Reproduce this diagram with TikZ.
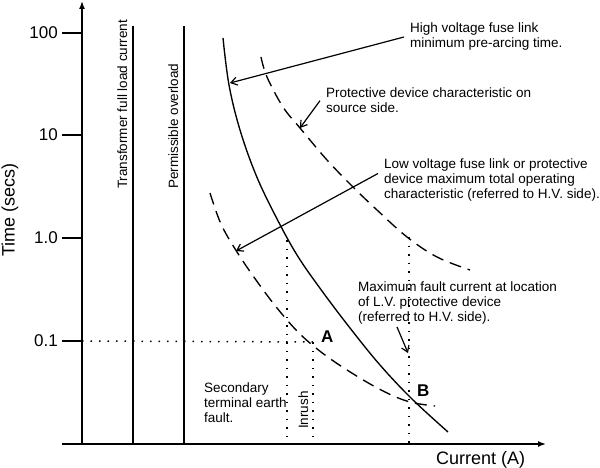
\documentclass[tikz,border=0pt]{standalone}
\usepackage{fontspec}
\setmainfont{Liberation Sans}
\usetikzlibrary{arrows.meta}

\begin{document}
\begin{tikzpicture}[x=1pt,y=-1pt,
    axis/.style={line width=1.5pt},
    curve/.style={line width=1.35pt},
    dashcurve/.style={curve,dash pattern=on 12pt off 7pt},
    guide/.style={line width=1.5pt,dash pattern=on 1.5pt off 7pt},
    note/.style={font=\fontsize{13.5}{15}\selectfont,align=left,inner xsep=6pt,inner ysep=0pt,anchor=north west},
    vlbl/.style={font=\fontsize{13.5}{15}\selectfont,rotate=90,inner sep=0pt,anchor=base west},
    axlbl/.style={font=\fontsize{18}{21}\selectfont,inner sep=0pt,anchor=base west},
    ticklbl/.style={font=\fontsize{17}{20}\selectfont,inner sep=0pt,anchor=east},
    ptlbl/.style={font=\fontsize{17}{20}\selectfont\bfseries,inner sep=0pt,anchor=base west},
    callout/.style={line width=1.2pt,-{Straight Barb[length=6pt,width=8pt]}}]
  \useasboundingbox (0,0) rectangle (600,468);

  \coordinate (o) at (82,444);
  \coordinate (xs) at (62,444);
  \coordinate (xe) at (546,444);
  \coordinate (ye) at (82,1);
  \draw[axis,-{Latex[length=8pt,width=6pt]}] (xs) -- (xe);
  \draw[axis,-{Latex[length=8pt,width=6pt]}] (o) -- (ye);
  \foreach \y/\lbl/\nm in {33/100/hundred,135/10/ten,238/1.0/one,341/0.1/tenth}{
    \draw[axis] (62,\y) -- (82,\y);
    \node[ticklbl] (\nm) at (58,\y) {\lbl};
  }
  \node[axlbl,rotate=90] (time) at (14.5,257) {Time (secs)};
  \node[axlbl] (cur) at (436,464) {Current (A)};

  \coordinate (tfltop) at (133,26);
  \coordinate (potop) at (184,26);
  \draw[axis,line width=1.4pt] (tfltop) -- (tfltop |- o);
  \draw[axis,line width=1.4pt] (potop) -- (potop |- o);
  \node[vlbl] (tfl) at (127,189) {Transformer full load current};
  \node[vlbl] (po) at (178,189) {Permissible overload};

  \draw[curve] plot[smooth,tension=0.6] coordinates {(223,38) (229,85) (240,130) (256,175) (275,215)
    (297,255) (322,291) (350,328) (380,365) (412,399) (448,432)};
  \draw[dashcurve] plot[smooth,tension=0.6] coordinates {(261,57) (267,77) (283,107) (300,128) (327,160)
    (353,187) (377,210) (407,237) (437,257) (470,270)};
  \draw[dashcurve] plot[smooth,tension=0.6] coordinates {(210,193) (221,224) (237,252) (256,280) (277,308)
    (300,334) (325,355) (355,375) (385,392) (410,402) (435,406)};

  \coordinate (ptA) at (313,342);
  \coordinate (inr) at (287,240);
  \coordinate (flt) at (409,237);
  \draw[guide] (82,341) -- (ptA);
  \draw[guide] (ptA) -- (ptA |- o);
  \draw[guide] (inr) -- (inr |- o);
  \draw[guide] (flt) -- (flt |- o);
  \node[ptlbl] (A) at (321,342) {A};
  \node[ptlbl] (B) at (417,396) {B};
  \node[vlbl] (inrush) at (308,429) {Inrush};

  \node[note] (hv) at (404,23) {High voltage fuse link\\minimum pre-arcing time.};
  \node[note] (src) at (320,88) {Protective device characteristic on\\source side.};
  \node[note] (lv) at (378,159) {Low voltage fuse link or protective\\device maximum total operating\\characteristic (referred to H.V. side).};
  \node[note] (mf) at (352,282) {Maximum fault current at location\\of L.V. protective device\\(referred to H.V. side).};
  \node[note] (sec) at (198,383) {Secondary\\terminal earth\\fault.};

  \coordinate (hvt) at (230,83);
  \coordinate (srct) at (300,128);
  \coordinate (lvt) at (236,251);
  \coordinate (mft) at (408,353);
  \draw[callout] (hv.west) -- (hvt);
  \draw[callout] (src.west) -- (srct);
  \draw[callout] ([yshift=7pt]lv.west) -- (lvt);
  \draw[callout] ([xshift=45pt,yshift=-2pt]mf.south west) -- (mft);
\end{tikzpicture}
\end{document}
